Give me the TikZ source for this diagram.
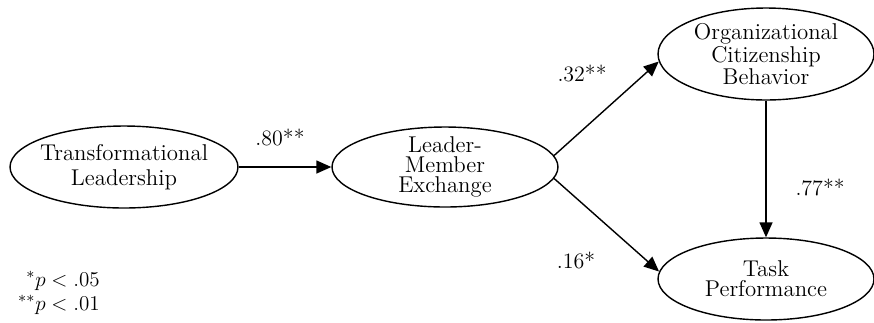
\documentclass[tikz,border=0pt]{standalone}
\usetikzlibrary{shapes.geometric,arrows.meta}
\begin{document}
\begin{tikzpicture}[x=0.02cm,y=-0.02cm,
  var/.style={draw,ellipse,line width=0.8pt,inner sep=-4pt,align=center,
    font=\fontsize{13}{11.5}\selectfont},
  path/.style={line width=0.8pt,-{Triangle[length=0.3cm,width=0.26cm]}},
  coef/.style={font=\fontsize{12.5}{14}\selectfont}]
  \useasboundingbox (0,0) rectangle (874,322);
  \node[var,minimum width=4.56cm,minimum height=1.64cm,
    font=\fontsize{13}{14}\selectfont] (tl) at (124,167) {Transformational\\Leadership};
  \node[var,minimum width=4.52cm,minimum height=1.6cm] (lmx) at (445,167) {Leader-\\Member\\Exchange};
  \node[var,minimum width=4.32cm,minimum height=1.84cm] (ocb) at (766,54) {Organizational\\Citizenship\\Behavior};
  \node[var,minimum width=4.32cm,minimum height=1.64cm] (tp) at (766,279) {Task\\Performance};
  \draw[path] (tl) -- (lmx);
  \draw[path] (lmx.6) -- (ocb.184);
  \draw[path] (lmx.-6) -- (tp.176);
  \draw[path] (ocb) -- (tp);
  \node[coef] (c1) at (280,137) {.80**};
  \node[coef] (c2) at (582,73) {.32**};
  \node[coef] (c3) at (576,260) {.16*};
  \node[coef] (c4) at (820,187) {.77**};
  \node[coef,align=right,anchor=east,font=\fontsize{13}{13.5}\selectfont] (key) at (106,293) {$^{*}p<.05$\\$^{**}p<.01$};
\end{tikzpicture}
\end{document}
